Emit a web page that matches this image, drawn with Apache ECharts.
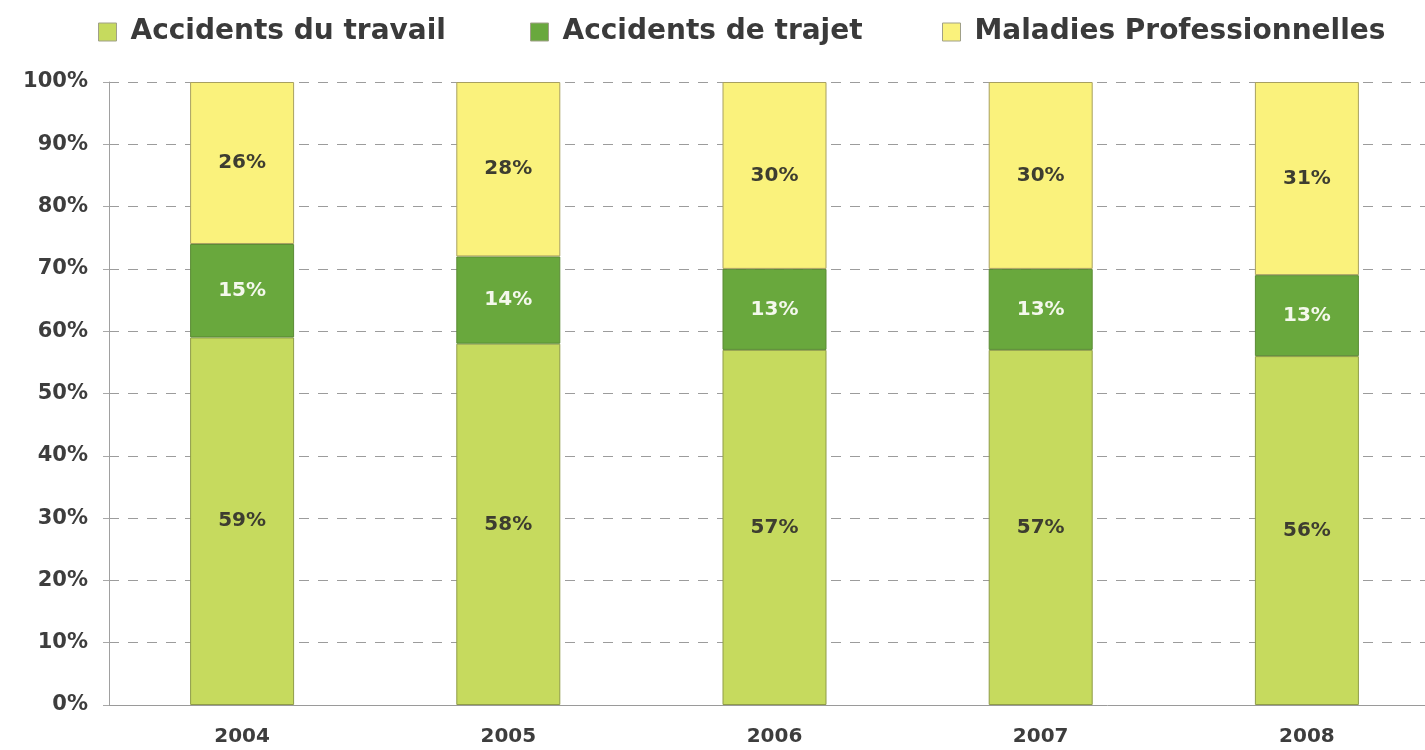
<!DOCTYPE html>
<html>
<head>
<meta charset="utf-8">
<script src="https://cdn.jsdelivr.net/npm/echarts@6/dist/echarts.min.js"></script>
<style>
  html, body { margin: 0; padding: 0; background: #ffffff; overflow: hidden; }
  /* the plot area runs slightly past the right edge of the page */
  #chart { width: 1445px; height: 750px; }
</style>
</head>
<body>
<div id="chart"></div>
<script>
// Répartition des sinistres par type (en %)
const years = ['2004', '2005', '2006', '2007', '2008'];
const accidentsTravail = [59, 58, 57, 57, 56];
const accidentsTrajet = [15, 14, 13, 13, 13];
const maladiesPro = [26, 28, 30, 30, 31];
const yTicks = [0, 10, 20, 30, 40, 50, 60, 70, 80, 90, 100];

const FONT = 'DejaVu Sans';
const names = ['Accidents du travail', 'Accidents de trajet', 'Maladies Professionnelles'];
const colors = ['#c6da5e', '#69a83d', '#faf27c'];
const labelColors = ['#3d3d30', '#f4f8ec', '#3d3d30'];
const borderColors = ['#8f9c48', '#5a8a34', '#a8a060'];
const values = [accidentsTravail, accidentsTrajet, maladiesPro];
const legendLeft = [93, 525, 937];

const chart = echarts.init(document.getElementById('chart'), null, { renderer: 'canvas' });

// one legend block per series so each can sit at its own x position
const legends = names.map((n, i) => ({
  data: [n],
  left: legendLeft[i],
  top: 13,
  icon: 'rect',
  itemWidth: 18,
  itemHeight: 18,
  itemStyle: { borderColor: '#a0a088', borderWidth: 1 },
  textStyle: {
    fontFamily: FONT, fontWeight: 'bold', fontSize: 28, color: '#3a3a3a',
    padding: [0, 0, 0, 9]
  }
}));

const series = names.map((n, i) => ({
  name: n,
  type: 'bar',
  stack: 'total',
  barWidth: 104,
  data: values[i],
  itemStyle: { color: colors[i], borderColor: borderColors[i], borderWidth: 1 },
  label: {
    show: true,
    position: 'inside',
    formatter: p => p.value + '%',
    fontFamily: FONT,
    fontWeight: 'bold',
    fontSize: 20,
    color: labelColors[i]
  }
}));

chart.setOption({
  animation: false,
  backgroundColor: '#ffffff',
  legend: legends,
  grid: { left: 109, width: 1331, top: 82, bottom: 45, containLabel: false },
  xAxis: {
    type: 'category',
    data: years,
    axisLine: { show: true, lineStyle: { color: '#9a9a9a', width: 1 } },
    axisTick: { show: false },
    axisLabel: {
      margin: 22,
      fontFamily: FONT, fontWeight: 'bold', fontSize: 20, color: '#3d3d3d'
    }
  },
  yAxis: {
    type: 'value',
    min: yTicks[0],
    max: yTicks[yTicks.length - 1],
    interval: yTicks[1] - yTicks[0],
    axisLine: { show: true, lineStyle: { color: '#a0a0a0', width: 1 } },
    axisTick: { show: true, length: 6, lineStyle: { color: '#a8a8a8' } },
    axisLabel: {
      margin: 21,
      formatter: v => v + '%',
      fontFamily: FONT, fontWeight: 'bold', fontSize: 21, color: '#3d3d3d'
    },
    splitLine: {
      show: true,
      lineStyle: { color: '#9c9c9c', type: [10, 9], width: 1 }
    }
  },
  series: series
});
</script>
</body>
</html>
